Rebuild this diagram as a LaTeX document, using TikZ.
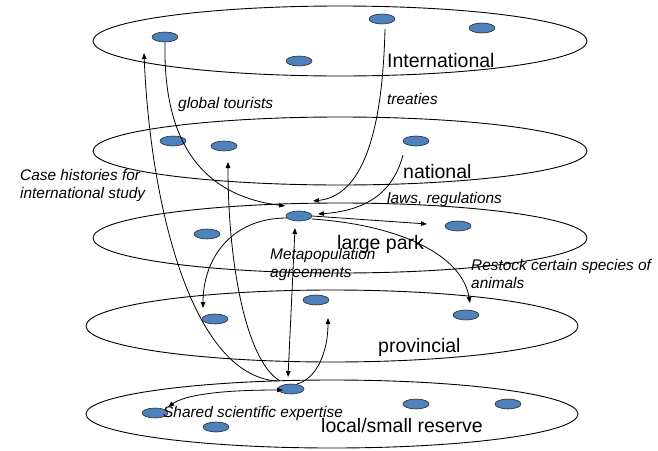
\documentclass[tikz,border=0pt]{standalone}
\usepackage{fontspec}
\setmainfont{Liberation Sans}
\usetikzlibrary{shapes.geometric,arrows.meta,calc}
\definecolor{dotblue}{HTML}{4F81BD}
\tikzset{
  layer/.style={ellipse, draw=black, line width=0.9pt, inner sep=0pt,
    minimum width=494pt, minimum height=70pt},
  lowlayer/.style={layer, minimum width=492pt},
  site/.style={ellipse, draw=black!85, line width=0.6pt, fill=dotblue,
    inner sep=0pt, minimum width=26pt, minimum height=10pt},
  levelname/.style={anchor=base west, inner sep=0pt,
    font=\fontsize{19.5}{23}\selectfont},
  flow/.style={anchor=base west, inner sep=0pt, align=left,
    font=\fontsize{15.4}{18}\selectfont\itshape},
  conn/.style={line width=0.8pt, -{Triangle[length=6pt,width=4.5pt]}},
  conntwo/.style={line width=0.8pt, {Triangle[length=6pt,width=4.5pt]}-{Triangle[length=6pt,width=4.5pt]}}
}
\begin{document}
\begin{tikzpicture}[x=1pt,y=-1pt]
\path[use as bounding box] (0,0) rectangle (658,450);

% the five nested levels
\node[layer] (Lint) at (340,41) {};
\node[layer, minimum height=68pt] (Lnat) at (340,151) {};
\node[layer] (Lpark) at (340,238) {};
\node[lowlayer, minimum height=72pt] (Lprov) at (332,326) {};
\node[lowlayer, minimum height=68pt] (Lloc) at (332,414) {};

% sites within each level
\node[site] (A1) at (165,37) {};
\node[site] (A2) at (299,61) {};
\node[site] (A3) at (382,19) {};
\node[site] (A4) at (482,28) {};
\node[site] (B1) at (173,141) {};
\node[site] (B2) at (224,146) {};
\node[site] (B3) at (416,141) {};
\node[site] (C1) at (299,216) {};
\node[site] (C2) at (207,234) {};
\node[site] (C3) at (458,226) {};
\node[site] (D1) at (215,319) {};
\node[site] (D2) at (316,300) {};
\node[site] (D3) at (466,315) {};
\node[site] (E1) at (291,389) {};
\node[site] (E2) at (155,413) {};
\node[site] (E3) at (216,427) {};
\node[site] (E4) at (416,404) {};
\node[site] (E5) at (508,404) {};

% level names
\node[levelname] (tInt) at (387,67) {International};
\node[levelname] (tNat) at (403,178) {national};
\node[levelname] (tPark) at (337,249) {large park};
\node[levelname] (tProv) at (378,352) {provincial};
\node[levelname] (tLoc) at (321,432) {local/small reserve};

% flow labels
\node[flow] (fTour) at (178,108) {global tourists};
\node[flow] (fTreat) at (387,104) {treaties};
\node[flow] (fLaws) at (387,203) {laws, regulations};
\node[flow] (fCase) at (20,198) {Case histories for\\international study};
\node[flow] (fMeta) at (270,277) {Metapopulation\\agreements};
\node[flow] (fRest) at (471,288) {Restock certain species of\\animals};
\node[flow] (fShare) at (163,417) {Shared scientific expertise};

% flows between sites
\draw[conn] (A1.south) .. controls (163,140) and (200,195) .. ($(C1)+(-14,-10)$);
\draw[conn] ($(A3)+(3,10)$) .. controls (383,110) and (370,195) .. ($(C1)+(14,-15)$);
\draw[conn] ($(B3)+(-13,14)$) .. controls (395,185) and (375,210) .. ($(C1)+(19,-2)$);
\draw[conn] (C1.east) -- ($(C3)+(-31,-2)$);
\draw[conn] ($(C1)+(13,3)$) .. controls (400,225) and (462,255) .. ($(D3)+(4,-12)$);
\draw[conn] ($(C1)+(-12,2)$) .. controls (230,218) and (203,260) .. ($(D1)+(-12,-11)$);
\draw[conntwo] ($(C1)+(-4,12)$) -- ($(E1)+(-3,-12)$);
\draw[conn] ($(E1)+(6,-5)$) .. controls (318,378) and (328,350) .. ($(D2)+(12,18)$);
\draw[conn] ($(E1)+(-11,-8)$) .. controls (245,360) and (228,260) .. ($(B2)+(4,16)$);
\draw[conn] ($(E1)+(-14,-8)$) .. controls (190,375) and (150,200) .. ($(A1)+(-21,16)$);
\draw[conntwo] ($(E1)+(-8,1)$) .. controls (220,390) and (185,395) .. ($(E2)+(13,-6)$);
\end{tikzpicture}
\end{document}
